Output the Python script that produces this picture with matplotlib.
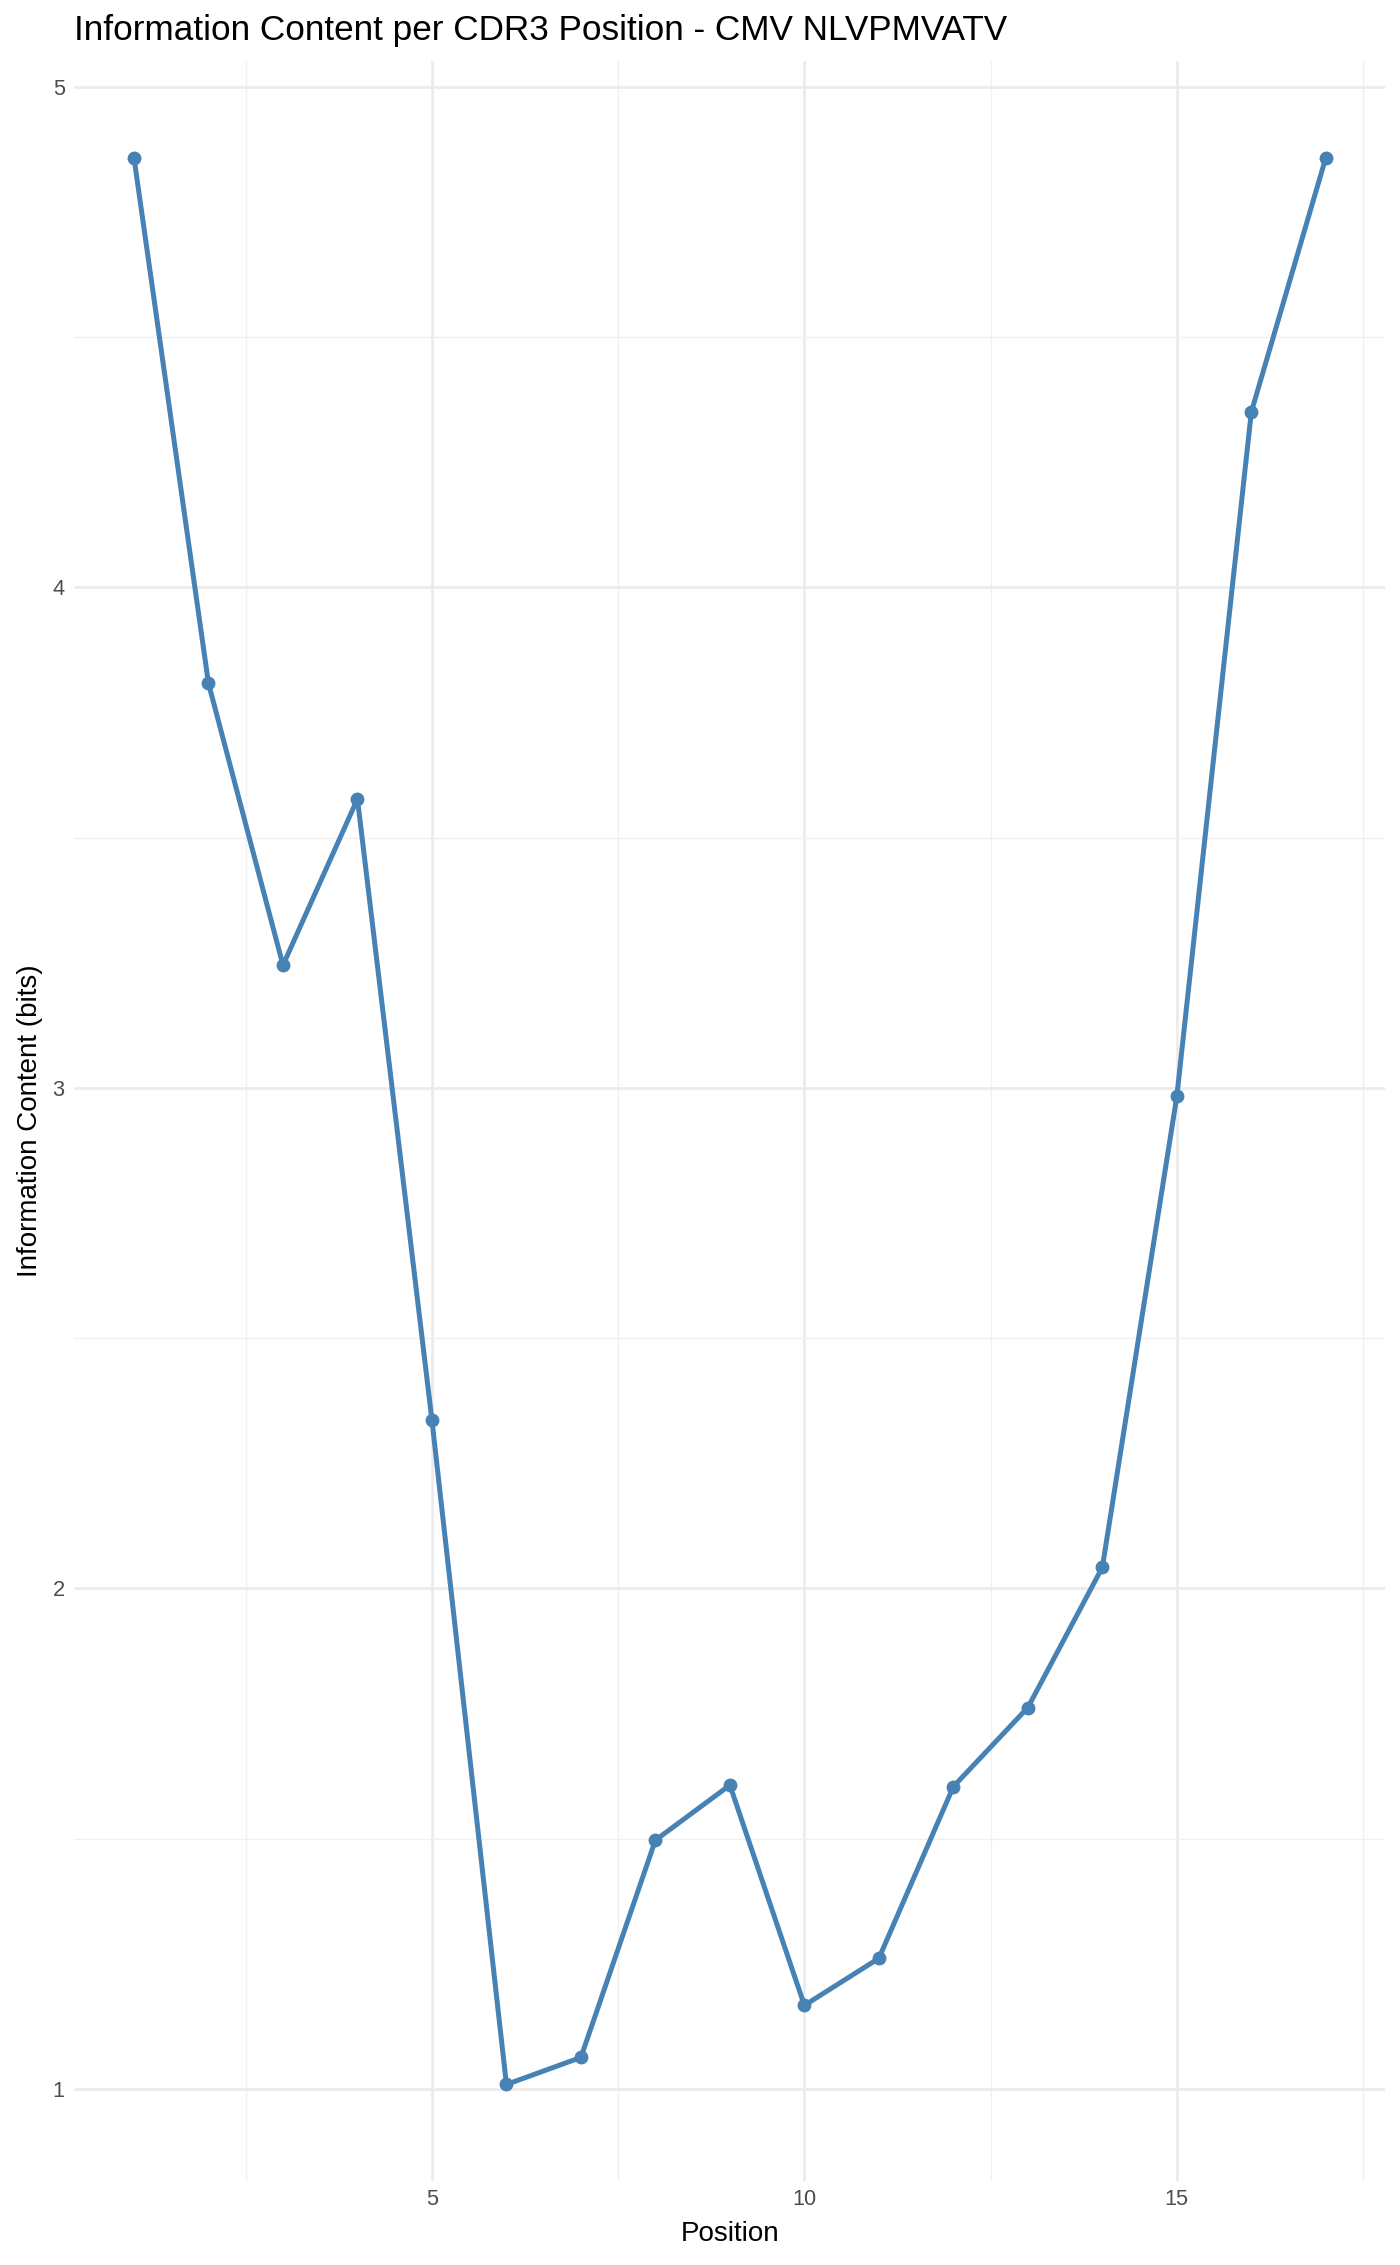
import numpy as np
import matplotlib
matplotlib.use("Agg")
import matplotlib.pyplot as plt
from matplotlib.ticker import MultipleLocator

# information content per CDR3 position
positions = np.arange(1, 18)
info_bits = [4.858, 3.808, 3.245, 3.577, 2.336, 1.009, 1.063, 1.497, 1.607,
             1.167, 1.261, 1.604, 1.762, 2.042, 2.983, 4.350, 4.858]

title = "Information Content per CDR3 Position - CMV NLVPMVATV"
x_label = "Position"
y_label = "Information Content (bits)"

plt.rcParams['font.family'] = ['Liberation Sans', 'DejaVu Sans']

W, H = 1400, 2265
fig = plt.figure(figsize=(W / 100, H / 100), dpi=100)
fig.patch.set_facecolor("white")

left, right, top, bottom = 74.4, 1385.4, 61.4, 2180.8
ax = fig.add_axes([left / W, (H - bottom) / H, (right - left) / W, (bottom - top) / H])

ax.plot(positions, info_bits, color="#4682B4", linewidth=3.6, solid_capstyle="butt",
        marker="o", markersize=10, markeredgewidth=0, zorder=3)

ax.margins(0.05)
ax.xaxis.set_major_locator(MultipleLocator(5))
ax.xaxis.set_minor_locator(MultipleLocator(2.5))
ax.yaxis.set_major_locator(MultipleLocator(1))
ax.yaxis.set_minor_locator(MultipleLocator(0.5))

ax.grid(which="major", color="#EBEBEB", linewidth=1.9)
ax.grid(which="minor", color="#F0F0F0", linewidth=1.0)
ax.set_axisbelow(True)
for s in ax.spines.values():
    s.set_visible(False)

ax.tick_params(which="both", length=0)
ax.tick_params(axis="y", labelsize=15.7, labelcolor="#4D4D4D", pad=7)
ax.tick_params(axis="x", labelsize=15.7, labelcolor="#4D4D4D", pad=6)

ax.set_xlabel(x_label, fontsize=20, color="black", labelpad=8)
ax.set_ylabel(y_label, fontsize=20, color="black", labelpad=7)

fig.text(left / W, (H - 40) / H, title, fontsize=25.3, color="black",
         ha="left", va="baseline")

fig.savefig("out.png", dpi=100, facecolor="white")
